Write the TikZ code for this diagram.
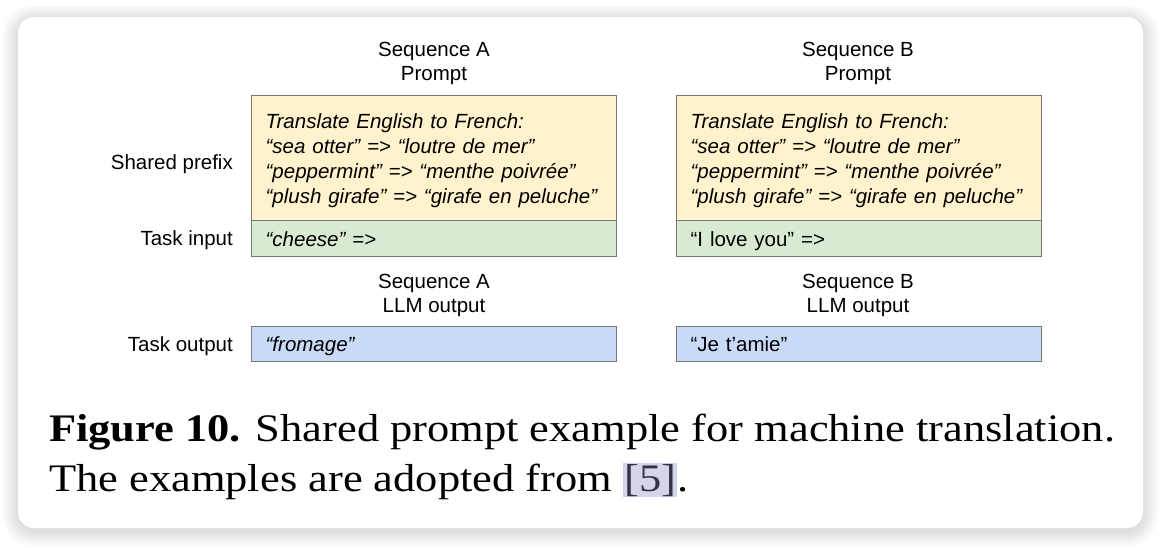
\documentclass[tikz,border=0pt]{standalone}
\usepackage{fontspec}
\setmainfont{Liberation Serif}
\newfontfamily\arial{Liberation Sans}
\newfontfamily\capfont[FakeStretch=1.14]{Liberation Serif}
\definecolor{prefixfill}{HTML}{FFF2CC}
\definecolor{inputfill}{HTML}{D9EAD3}
\definecolor{outputfill}{HTML}{C9DAF8}
\definecolor{boxline}{HTML}{777777}
\definecolor{citebg}{HTML}{D2D6E8}
\definecolor{citefg}{HTML}{333344}
\begin{document}
\begin{tikzpicture}[x=1pt,y=-1pt,
  lab/.style={font=\arial\fontsize{20.5}{24}\selectfont, align=center, inner sep=0pt},
  sidelab/.style={font=\arial\fontsize{20.5}{24}\selectfont, anchor=east, inner sep=0pt},
  tbox/.style={draw=boxline, line width=1.3pt, anchor=north west, minimum width=365pt,
     text width=337pt, align=left, inner sep=0pt, font=\arial\fontsize{20.5}{25}\selectfont},
  prefixbox/.style={tbox, fill=prefixfill, minimum height=125pt},
  inputbox/.style={tbox, fill=inputfill, minimum height=36pt, text height=25.5pt, text depth=10.5pt},
  outputbox/.style={tbox, fill=outputfill, minimum height=35pt, text height=24.5pt, text depth=10.5pt},
  caption/.style={anchor=base west, inner sep=0pt, font=\capfont\fontsize{39}{48}\selectfont}
]
\useasboundingbox (0,0) rectangle (1161,547);
\fill[white] (0,0) rectangle (1161,547);
% shadow
\foreach \i in {1,...,16}{
  \pgfmathsetmacro{\r}{16+\i}
  \fill[black, opacity=0.009, rounded corners=\r pt] (18-\i,20-\i) rectangle (1143+\i,531+\i);
}
\fill[white, rounded corners=16pt] (18,17) rectangle (1143,528);

% column labels
\node[lab] (ha) at (434,63) {Sequence A\\Prompt};
\node[lab] (hb) at (858,63) {Sequence B\\Prompt};
\node[lab] (oa) at (434,295.5) {Sequence A\\LLM output};
\node[lab] (ob) at (858,295.5) {Sequence B\\LLM output};

% row labels
\node[sidelab] (sp) at (233,164) {Shared prefix};
\node[sidelab] (ti) at (233,240) {Task input};
\node[sidelab] (to) at (233,346) {Task output};

% boxes A
\node[prefixbox] (pa) at (251,95) {\rule{0pt}{19pt}\itshape Translate English to French:\\“sea otter” => “loutre de mer”\\“peppermint” => “menthe poivrée”\\“plush girafe” => “girafe en peluche”};
\node[inputbox] (ia) at (251,220) {\itshape “cheese” =>};
\node[outputbox] (xa) at (251,326) {\itshape “fromage”};

% boxes B
\node[prefixbox] (pb) at (676,95) {\rule{0pt}{19pt}\itshape Translate English to French:\\“sea otter” => “loutre de mer”\\“peppermint” => “menthe poivrée”\\“plush girafe” => “girafe en peluche”};
\node[inputbox] (ib) at (676,220) {“I love you” =>};
\node[outputbox] (xb) at (676,326) {“Je t’amie”};

% caption
\node[caption] (c1) at (49,441) {\textbf{Figure 10.} Shared prompt example for machine translation.};
\node[caption] (c2) at (49,491) {The examples are adopted from {\setlength\fboxsep{1pt}\colorbox{citebg}{\color{citefg}[5]}}.};
\end{tikzpicture}
\end{document}
